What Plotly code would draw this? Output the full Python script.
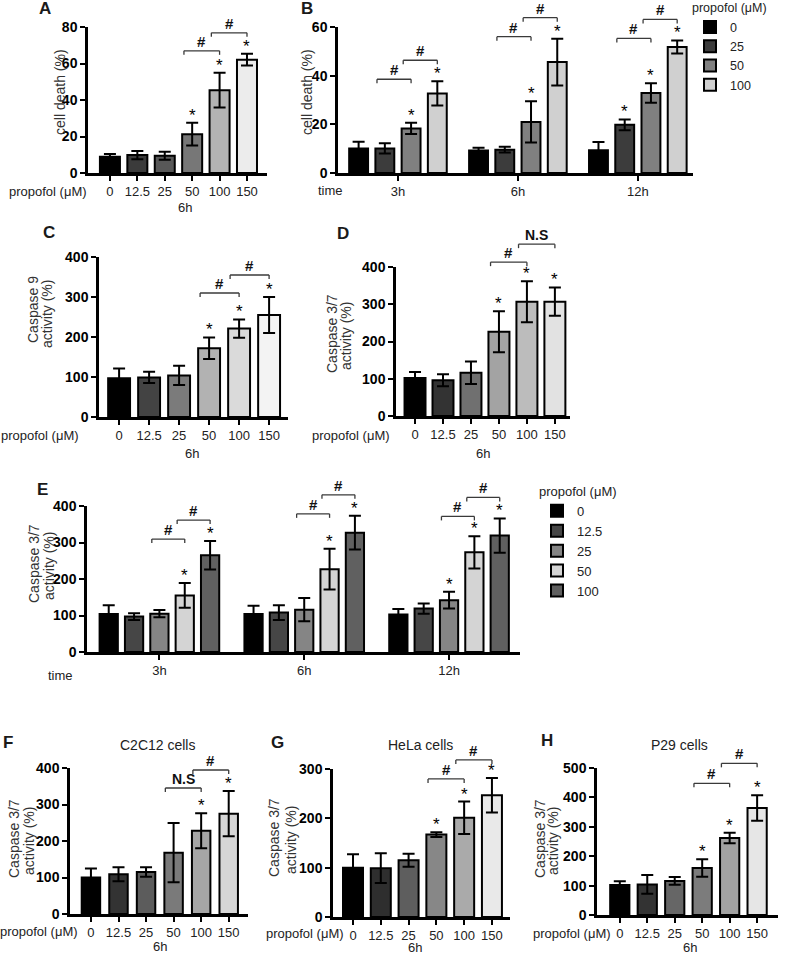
import plotly.graph_objects as go

W, H = 786, 954
FONT = "Liberation Sans"
BARGAP = 0.125
BARGROUPGAP = 0.28

# ---------------- data ----------------
dose6 = ["0", "12.5", "25", "50", "100", "150"]
times = ["3h", "6h", "12h"]
b_doses = ["0", "25", "50", "100"]
e_doses = ["0", "12.5", "25", "50", "100"]

a_mean = [8.9, 9.8, 9.5, 21.3, 45.4, 62.1]
a_err = [1.5, 2.2, 2.2, 6.2, 9.5, 3.2]

# rows = dose, columns = time (3h, 6h, 12h)
b_mean = [[10.1, 9.2, 9.4], [10.1, 9.6, 19.8], [18.3, 21.0, 32.9], [32.7, 45.6, 51.8]]
b_err = [[2.7, 1.2, 3.3], [2.1, 1.2, 2.2], [2.3, 8.5, 4.0], [5.0, 9.6, 2.7]]

c_mean = [97, 99, 104, 172, 221, 255]
c_err = [24, 14, 24, 27, 23, 45]

d_mean = [102, 96, 116, 226, 307, 307]
d_err = [16, 16, 30, 55, 55, 38]

e_mean = [[104, 104, 103], [97, 108, 119], [105, 116, 142], [155, 227, 273], [265, 327, 319]]
e_err = [[24, 23, 15], [9, 20, 14], [10, 32, 23], [34, 56, 44], [39, 46, 47]]

f_mean = [100, 109, 115, 168, 228, 275]
f_err = [25, 19, 13, 81, 48, 62]

g_mean = [100, 99, 115, 167, 201, 247]
g_err = [27, 30, 13, 5, 33, 35]

h_mean = [102, 104, 116, 160, 262, 364]
h_err = [13, 32, 13, 30, 18, 43]

# significance: indices of bars with "*", and brackets (from, to, label)
a_stars = [3, 4, 5]
b_stars = [[2, 3], [2, 3], [1, 2, 3]]
c_stars = [3, 4, 5]
d_stars = [3, 4, 5]
e_stars = [[3, 4], [3, 4], [2, 3, 4]]
f_stars = [4, 5]
g_stars = [3, 4, 5]
h_stars = [3, 4, 5]

a_brackets = [(3, 4, "#"), (4, 5, "#")]
b_brackets = [(1, 2, "#"), (2, 3, "#")]
c_brackets = [(3, 4, "#"), (4, 5, "#")]
d_brackets = [(3, 4, "#"), (4, 5, "N.S")]
e_brackets = [(2, 3, "#"), (3, 4, "#")]
f_brackets = [(3, 4, "N.S"), (4, 5, "#")]
g_brackets = [(3, 4, "#"), (4, 5, "#")]
h_brackets = [(3, 4, "#"), (4, 5, "#")]

# ---------------- styles ----------------
A_COL = ["#000000", "#3b3b3b", "#585858", "#777777", "#b3b3b3", "#ececec"]
B_COL = ["#000000", "#3c3c3c", "#808080", "#d0d0d0"]
C_COL = ["#000000", "#434343", "#7b7b7b", "#b2b2b2", "#dadada", "#f3f3f3"]
D_COL = ["#000000", "#333333", "#707070", "#a3a3a3", "#bcbcbc", "#e2e2e2"]
E_COL = ["#000000", "#464646", "#858585", "#d4d4d4", "#606060"]
F_COL = ["#000000", "#333333", "#5c5c5c", "#7a7a7a", "#a6a6a6", "#d6d6d6"]
G_COL = ["#000000", "#2e2e2e", "#5e5e5e", "#878787", "#aaaaaa", "#e9e9e9"]
H_COL = ["#000000", "#333333", "#666666", "#7c7c7c", "#a2a2a2", "#e6e6e6"]

fig = go.Figure()
ann = []
shapes = []
P = {}


def panel(key, n, x0, x1, ytop, ybot, yr, dtick, xr):
    sid = "" if n == 1 else str(n)
    P[key] = dict(xid="x" + sid, yid="y" + sid, xa="xaxis" + sid, ya="yaxis" + sid,
                  x0=x0, x1=x1, ytop=ytop, ybot=ybot, yr=yr, dtick=dtick, xr=xr)


panel("A", 1, 88, 267, 27, 173, [0, 80], 20, [-0.8, 5.73])
panel("B", 2, 338, 693, 27, 173, [0, 60], 20, [-0.5, 2.46])
panel("C", 3, 99, 288, 257, 417, [0, 400], 100, [-0.67, 5.63])
panel("D", 4, 396, 570, 267, 416, [0, 400], 100, [-0.68, 5.54])
panel("E", 5, 87, 520, 506, 652, [0, 400], 100, [-0.5, 2.49])
panel("F", 6, 70, 248, 768, 914, [0, 400], 100, [-0.76, 5.7])
panel("G", 7, 333, 510, 769, 917, [0, 300], 100, [-0.72, 5.65])
panel("H", 8, 597, 778, 768, 915, [0, 500], 100, [-0.83, 5.76])


def ypaper(p, v):
    frac = (v - p["yr"][0]) / (p["yr"][1] - p["yr"][0])
    return 1 - p["ybot"] / H + frac * (p["ybot"] - p["ytop"]) / H


def add_stars(p, xs, tops, idxs):
    for i in idxs:
        ann.append(dict(xref=p["xid"], yref="paper", x=xs[i], y=ypaper(p, tops[i]),
                        xanchor="center", yanchor="bottom", yshift=-4, text="*",
                        showarrow=False, font=dict(family=FONT, size=17, color="black")))


def add_brackets(p, xs, tops, brs, sp, off, gap):
    ymax = max(tops)
    n = len(brs)
    for k, (i, j, lab) in enumerate(brs):
        yb = ypaper(p, ymax) + (off - (n - 1 - k) * gap) / H
        xl = xs[i] - 0.3 * sp
        xr = xs[j]
        t = 4 / H
        ln = dict(color="#3a3a3a", width=1.3)
        shapes.append(dict(type="line", xref=p["xid"], yref="paper", x0=xl, x1=xr, y0=yb, y1=yb, line=ln))
        shapes.append(dict(type="line", xref=p["xid"], yref="paper", x0=xl, x1=xl, y0=yb, y1=yb - t, line=ln))
        shapes.append(dict(type="line", xref=p["xid"], yref="paper", x0=xr, x1=xr, y0=yb, y1=yb - t, line=ln))
        ann.append(dict(xref=p["xid"], yref="paper", x=(xl + xr) / 2, y=yb, xanchor="center",
                        yanchor="bottom", yshift=-1, text=lab, showarrow=False,
                        font=dict(family=FONT, size=15 if lab == "#" else 14, color="#111", weight="bold")))


def err(arr):
    return dict(type="data", array=arr, visible=True, color="black", thickness=2, width=6)


def single(key, mean, errs, colors, bw, stars, brs, off, gap=18):
    p = P[key]
    fig.add_trace(go.Bar(x=dose6, y=mean, width=bw, error_y=err(errs),
                         marker=dict(color=colors, line=dict(color="black", width=2)),
                         xaxis=p["xid"], yaxis=p["yid"], showlegend=False))
    xs = list(range(len(dose6)))
    tops = [m + e for m, e in zip(mean, errs)]
    add_stars(p, xs, tops, stars)
    add_brackets(p, xs, tops, brs, 1.0, off, gap)


def grouped(key, names, means, errs, colors, legend, stars, brs, off, gap=18):
    p = P[key]
    n = len(names)
    for k, name in enumerate(names):
        fig.add_trace(go.Bar(x=times, y=means[k], name=name, error_y=err(errs[k]),
                             marker=dict(color=colors[k], line=dict(color="black", width=2)),
                             xaxis=p["xid"], yaxis=p["yid"], legend=legend,
                             legendgroup=key + name, showlegend=True))
    slot = (1 - BARGAP) / n
    for g in range(len(times)):
        xs = [g + (k - (n - 1) / 2) * slot for k in range(n)]
        tops = [means[k][g] + errs[k][g] for k in range(n)]
        add_stars(p, xs, tops, stars[g])
        add_brackets(p, xs, tops, brs, slot, off, gap)


single("A", a_mean, a_err, A_COL, 0.73, a_stars, a_brackets, 21)
grouped("B", b_doses, b_mean, b_err, B_COL, "legend", b_stars, b_brackets, 21, 19)
single("C", c_mean, c_err, C_COL, 0.73, c_stars, c_brackets, 22)
single("D", d_mean, d_err, D_COL, 0.75, d_stars, d_brackets, 37)
grouped("E", e_doses, e_mean, e_err, E_COL, "legend2", e_stars, e_brackets, 21, 19)
single("F", f_mean, f_err, F_COL, 0.67, f_stars, f_brackets, 21)
single("G", g_mean, g_err, G_COL, 0.72, g_stars, g_brackets, 18, 19)
single("H", h_mean, h_err, H_COL, 0.70, h_stars, h_brackets, 32, 20)


def text(xp, yp, s, size=13, color="#222", anchor="center", bold=False, angle=0):
    ann.append(dict(xref="paper", yref="paper", x=xp / W, y=1 - yp / H, xanchor=anchor,
                    yanchor="middle", text=s, showarrow=False, textangle=angle,
                    font=dict(family=FONT, size=size, color=color,
                              weight="bold" if bold else "normal")))


# panel letters
for lab, xp, yp in [("A", 45, 8), ("B", 307, 8), ("C", 49, 233), ("D", 343, 234),
                    ("E", 42, 490), ("F", 8, 742), ("G", 277, 742), ("H", 547, 740)]:
    text(xp, yp, lab, size=17, color="#1a1a1a", bold=True)

# y-axis titles
YT = "#333"
text(60, 92, "cell death (%)", size=14, color=YT, angle=-90)
text(307, 92, "cell death (%)", size=14, color=YT, angle=-90)
text(33, 310, "Caspase 9", size=14, color=YT, angle=-90)
text(47, 314, "activity (%)", size=14, color=YT, angle=-90)
for (x1, x2, yc) in [(332, 346, 334), (34, 49, 564), (14, 29, 839), (274, 291, 838), (540, 553, 839)]:
    text(x1, yc, "Caspase 3/7", size=14, color=YT, angle=-90)
    text(x2, yc + 2, "activity (%)", size=14, color=YT, angle=-90)

# x-axis side labels
for xr_, yp in [(89, 192), (81, 435), (392, 435), (80, 931), (346, 933), (613, 933)]:
    text(xr_, yp, "propofol (μM)", size=13, anchor="right")
for xp, yp in [(185, 207), (192, 453), (483, 453), (160, 946), (415, 947), (690, 947)]:
    text(xp, yp, "6h", size=13)
text(330, 190, "time", size=13)
text(60, 675, "time", size=13)

# subplot titles
text(157, 745, "C2C12 cells", size=14)
text(420, 745, "HeLa cells", size=14)
text(679, 745, "P29 cells", size=14)

layout = dict(width=W, height=H, margin=dict(l=0, r=0, t=0, b=0, autoexpand=False),
              plot_bgcolor="white", paper_bgcolor="white",
              barmode="group", bargap=BARGAP, bargroupgap=BARGROUPGAP,
              font=dict(family=FONT, color="#222"),
              annotations=ann, shapes=shapes,
              legend=dict(x=690 / W, y=1 + 4 / H, xanchor="left", yanchor="top",
                          title=dict(text="propofol (μM)", font=dict(size=12.5, color="#222")),
                          font=dict(size=12.5, color="#222"), bgcolor="rgba(0,0,0,0)",
                          tracegroupgap=0, itemclick=False, itemdoubleclick=False),
              legend2=dict(x=537 / W, y=1 - 479 / H, xanchor="left", yanchor="top",
                           title=dict(text="propofol (μM)", font=dict(size=13, color="#222")),
                           font=dict(size=13, color="#222"), bgcolor="rgba(0,0,0,0)",
                           tracegroupgap=0, itemclick=False, itemdoubleclick=False))

for key, p in P.items():
    layout[p["xa"]] = dict(domain=[p["x0"] / W, p["x1"] / W], range=p["xr"], type="category",
                           anchor=p["yid"], showline=True, linecolor="black", linewidth=2.5,
                           ticks="outside", ticklen=5, tickwidth=2, tickcolor="black",
                           tickfont=dict(family=FONT, size=13, color="#222"),
                           showgrid=False, zeroline=False, fixedrange=True)
    layout[p["ya"]] = dict(domain=[1 - p["ybot"] / H, 1 - p["ytop"] / H], range=p["yr"],
                           anchor=p["xid"], dtick=p["dtick"], showline=True, linecolor="black",
                           linewidth=2.5, ticks="outside", ticklen=5, tickwidth=2,
                           tickcolor="black",
                           tickfont=dict(family=FONT, size=14, color="black", weight="bold"),
                           showgrid=False, zeroline=False, fixedrange=True)

fig.update_layout(**layout)
fig.write_html("out.html", config={"displayModeBar": False},
               post_script="document.body.style.margin='0';document.body.style.overflow='hidden';")
